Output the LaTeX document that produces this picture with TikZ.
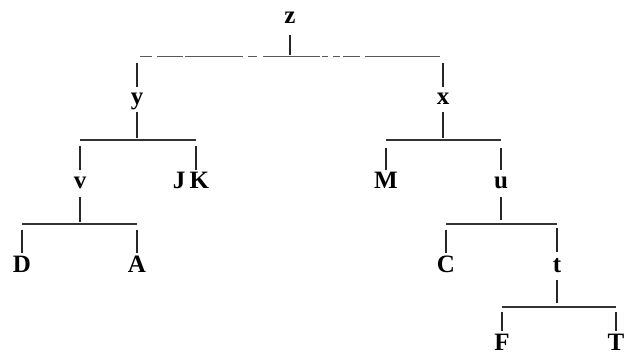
\documentclass[tikz,border=0pt]{standalone}
\usepackage{fontspec}
\setmainfont{Liberation Serif}
\begin{document}
\begin{tikzpicture}[x=1pt,y=-1pt,
  lbl/.style={anchor=base,inner sep=0pt,font=\fontsize{25}{25}\selectfont\bfseries},
  stem/.style={line width=1.7pt,draw=black!85},
  bar/.style={line width=1.2pt,draw=black!80},
  topbar/.style={line width=0.9pt,draw=black!65,dash pattern=on 12pt off 5pt on 26pt off 2pt on 58pt off 5pt on 9pt off 6pt on 57pt off 2pt on 6pt off 5pt on 7pt off 3pt on 17pt off 5pt on 75pt off 20pt}]
\useasboundingbox (0,0) rectangle (624,354);
% labels
\node[lbl] (z) at (290,23) {z};
\node[lbl] (y) at (137,104) {y};
\node[lbl] (x) at (443,104) {x};
\node[lbl] (v) at (80,188) {v};
\node[lbl] (jk) at (191,188) {J\,K};
\coordinate (k) at ([xshift=5pt]jk.base);
\node[lbl] (m) at (386,188) {M};
\node[lbl] (u) at (501,188) {u};
\node[lbl] (d) at (22,272) {D};
\node[lbl] (a) at (137,272) {A};
\node[lbl] (c) at (446,272) {C};
\node[lbl] (t) at (557,272) {t};
\node[lbl] (f) at (502,350) {F};
\node[lbl] (tt) at (616,350) {T};
% z
\draw[stem] ([yshift=-12pt]z.base) -- ([yshift=-32pt]z.base);
\draw[topbar] ([xshift=3pt,yshift=48pt]y.base) -- ([yshift=48pt]x.base);
\draw[stem] ([yshift=41pt]y.base) -- ([yshift=17pt]y.base);
\draw[stem] ([yshift=41pt]x.base) -- ([yshift=17pt]x.base);
% y
\draw[stem] ([yshift=-8pt]y.base) -- ([yshift=-34pt]y.base);
\draw[bar] ([yshift=48pt]v.base) -- ([yshift=48pt]k);
\draw[stem] ([yshift=42pt]v.base) -- ([yshift=18pt]v.base);
\draw[stem] ([yshift=42pt]k) -- ([yshift=18pt]k);
% v
\draw[stem] ([yshift=-9pt]v.base) -- ([yshift=-34pt]v.base);
\draw[bar] ([yshift=48pt]d.base) -- ([yshift=48pt]a.base);
\draw[stem] ([yshift=42pt]d.base) -- ([yshift=19pt]d.base);
\draw[stem] ([yshift=42pt]a.base) -- ([yshift=19pt]a.base);
% x
\draw[stem] ([yshift=-8pt]x.base) -- ([yshift=-34pt]x.base);
\draw[bar] ([yshift=48pt]m.base) -- ([yshift=48pt]u.base);
\draw[stem] ([yshift=40pt]m.base) -- ([yshift=18pt]m.base);
\draw[stem] ([yshift=40pt]u.base) -- ([yshift=18pt]u.base);
% u
\draw[stem] ([yshift=-9pt]u.base) -- ([yshift=-32pt]u.base);
\draw[bar] ([yshift=48pt]c.base) -- ([yshift=48pt]t.base);
\draw[stem] ([yshift=42pt]c.base) -- ([yshift=19pt]c.base);
\draw[stem] ([yshift=44pt]t.base) -- ([yshift=20pt]t.base);
% t
\draw[stem] ([yshift=-8pt]t.base) -- ([yshift=-31pt]t.base);
\draw[bar] ([yshift=43pt]f.base) -- ([yshift=43pt]tt.base);
\draw[stem] ([yshift=38pt]f.base) -- ([yshift=19pt]f.base);
\draw[stem] ([yshift=38pt]tt.base) -- ([yshift=19pt]tt.base);
\end{tikzpicture}
\end{document}
